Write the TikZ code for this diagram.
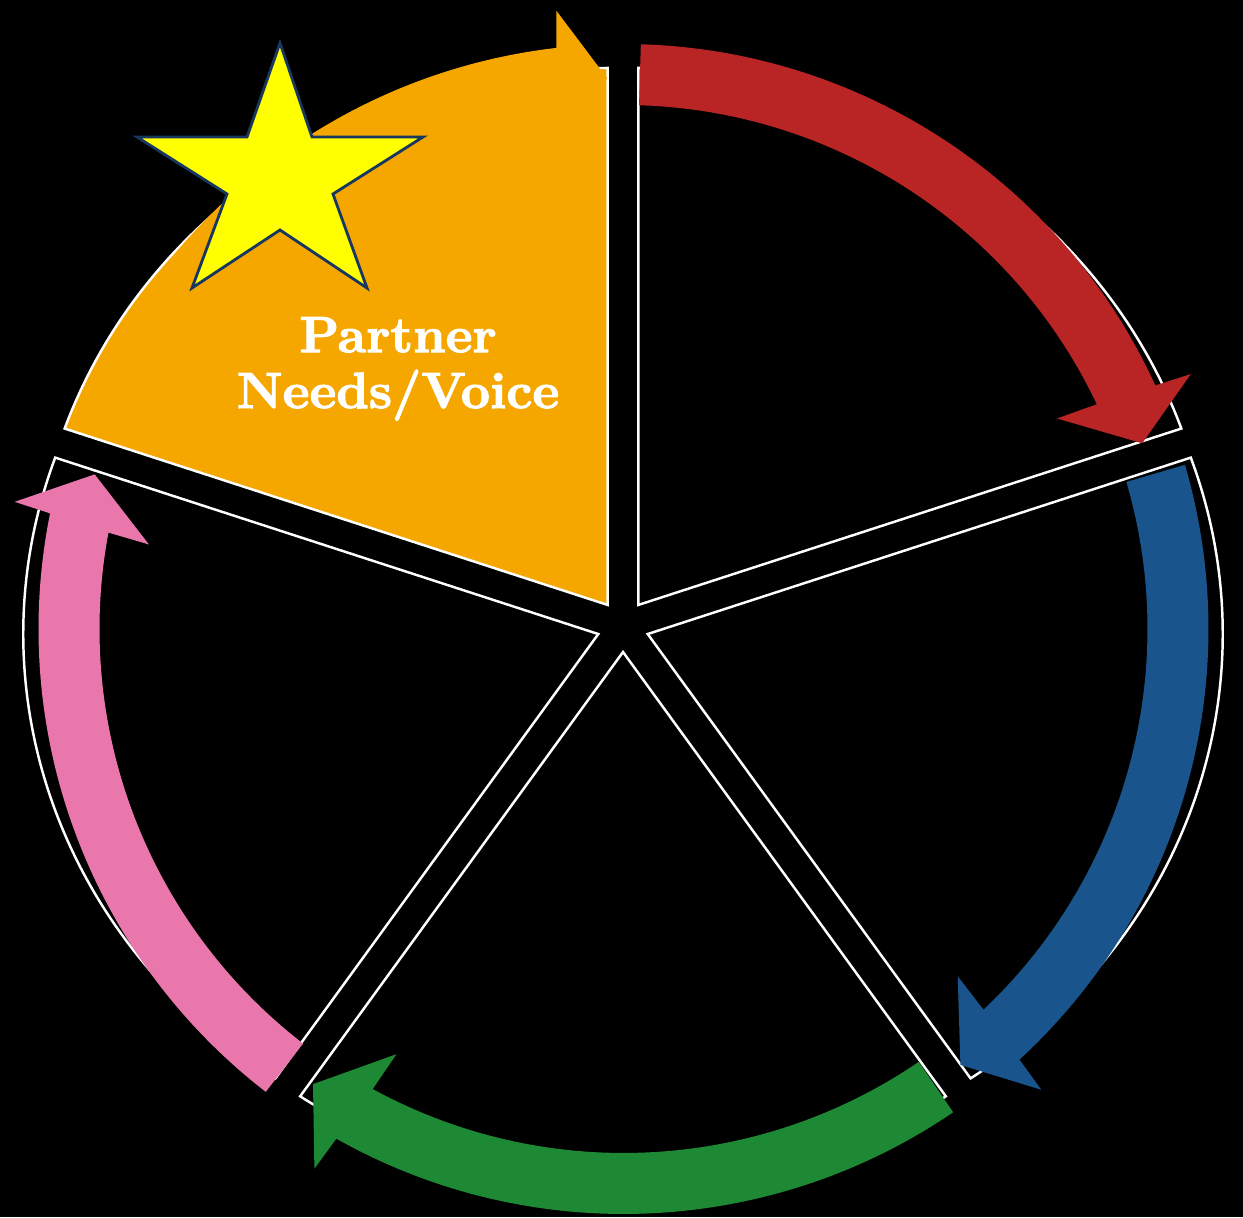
\documentclass[tikz,border=0pt]{standalone}
\usepackage{fontspec}
\usepackage{tikz}
\usetikzlibrary{calc}
\newfontfamily\partnerfont[FakeBold=2]{lmroman10-bold.otf}
\definecolor{redcolor}{RGB}{185,37,37}
\definecolor{bluecolor}{RGB}{25,85,140}
\definecolor{greencolor}{RGB}{29,137,52}
\definecolor{pinkcolor}{RGB}{233,119,172}
\definecolor{orangecolor}{RGB}{245,167,0}
\definecolor{starcolor}{RGB}{255,255,0}
\definecolor{staredge}{RGB}{23,55,94}

\begin{document}
\begin{tikzpicture}[sector/.style={draw=white, line width=0.7pt}]
    \fill[black] (0,0) rectangle (12.43,12.17);
    \useasboundingbox (0,0) rectangle (12.43,12.17);
    \coordinate (C) at (6.23,5.91);
    \coordinate (A) at (6.235,5.88);
    % exploded sectors
    \foreach \m/\ta/\tb/\fc in {54/90/19.18/black, -18/19.18/-55.84/black, -90/-55.84/-124.16/black, -162/-124.16/-199.18/black, 126/160.82/90/orangecolor}
      \draw[sector, fill=\fc, shift={($(C)+(\m:0.26)$)}, yscale=0.9339]
        (0,0) -- (\ta:5.75) arc[start angle=\ta, end angle=\tb, radius=5.75] -- cycle;
    % arrows round the ring
    \foreach \s/\baseang/\col in {88.3/25/redcolor, 16.3/-47/bluecolor, -55.7/-119/greencolor, -127.7/-191/pinkcolor, 159.5/97/orangecolor} {
      \pgfmathsetmacro\outang{\baseang-0.4}
      \pgfmathsetmacro\innang{\baseang+0.4}
      \pgfmathsetmacro\headout{\baseang-0.8}
      \pgfmathsetmacro\headinn{\baseang+0.9}
      \pgfmathsetmacro\tipang{\baseang-5.3}
      \fill[\col, shift={(A)}] (\s:5.85) arc[start angle=\s, end angle=\outang, radius=5.85]
        -- (\headout:6.22) -- (\tipang:5.51) -- (\headinn:4.82) -- (\innang:5.24)
        arc[start angle=\innang, end angle=\s, radius=5.24] -- cycle;
    }
    \draw[fill=starcolor, draw=staredge, line width=0.8pt] (2.80,11.74) -- (3.12,10.80) -- (4.23,10.80)
      -- (3.33,10.23) -- (3.67,9.29) -- (2.80,9.87) -- (1.92,9.29) -- (2.27,10.23)
      -- (1.37,10.80) -- (2.47,10.80) -- cycle;
    \node[text=white, align=center, font=\partnerfont\fontsize{14.5}{15.9}\selectfont] (partner) at (3.98,8.48) {Partner\\Needs/Voice};
\end{tikzpicture}
\end{document}
